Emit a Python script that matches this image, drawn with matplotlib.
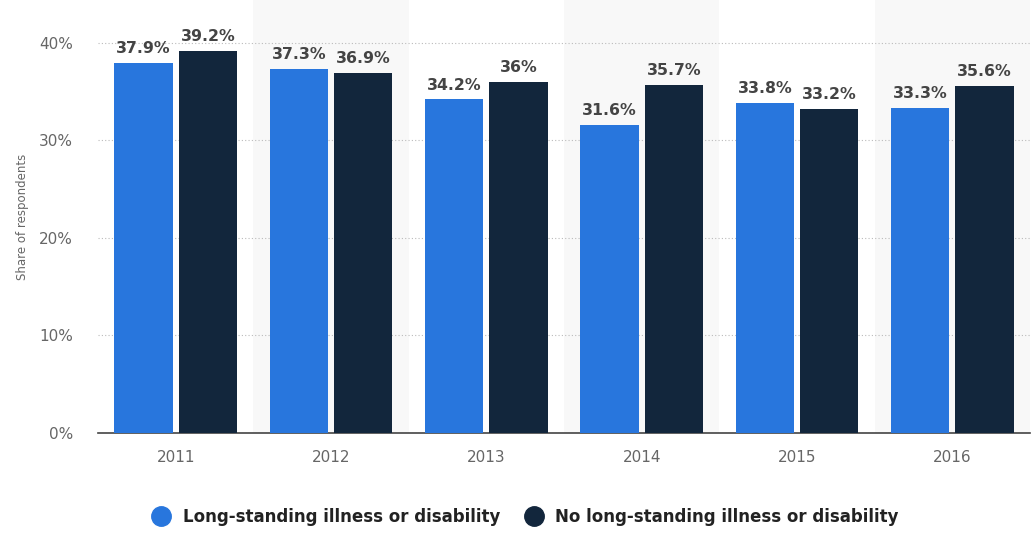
import numpy as np
import matplotlib.pyplot as plt
from matplotlib.lines import Line2D

years = ["2011", "2012", "2013", "2014", "2015", "2016"]
illness = [37.9, 37.3, 34.2, 31.6, 33.8, 33.3]
no_illness = [39.2, 36.9, 36.0, 35.7, 33.2, 35.6]
illness_labels = ["37.9%", "37.3%", "34.2%", "31.6%", "33.8%", "33.3%"]
no_illness_labels = ["39.2%", "36.9%", "36%", "35.7%", "33.2%", "35.6%"]
series_names = ["Long-standing illness or disability", "No long-standing illness or disability"]

blue = "#2876dd"
navy = "#12263c"

fig = plt.figure(figsize=(10.33, 5.33), dpi=100)
ax = fig.add_axes([0.095, 0.1876, 0.902, 0.8124])

x = np.arange(len(years))
w = 0.376
off = 0.207

# alternating column shading
for i in x:
    if i % 2 == 1:
        ax.axvspan(i - 0.5, i + 0.5, color="#f8f8f8", zorder=0, lw=0)

ax.bar(x - off, illness, width=w, color=blue, zorder=3)
ax.bar(x + off, no_illness, width=w, color=navy, zorder=3)

for xi, v, t in zip(x - off, illness, illness_labels):
    ax.annotate(t, (xi, v), xytext=(0, 5), textcoords="offset points",
                ha="center", va="bottom", fontsize=11.3, fontweight="bold", color="#444444")
for xi, v, t in zip(x + off, no_illness, no_illness_labels):
    ax.annotate(t, (xi, v), xytext=(0, 5), textcoords="offset points",
                ha="center", va="bottom", fontsize=11.3, fontweight="bold", color="#444444")

ax.set_xlim(-0.5, 5.5)
ax.set_ylim(0, 44.4)
ax.set_yticks([0, 10, 20, 30, 40])
ax.set_yticklabels(["0%", "10%", "20%", "30%", "40%"])
ax.set_xticks(x)
ax.set_xticklabels(years)
ax.yaxis.grid(True, linestyle=(0, (1, 2)), color="#bbbbbb", lw=0.8, zorder=1)
ax.set_axisbelow(True)

for side in ["top", "right", "left"]:
    ax.spines[side].set_visible(False)
ax.spines["bottom"].set_color("#444444")
ax.spines["bottom"].set_linewidth(1.2)
ax.tick_params(axis="both", length=0, labelsize=11, colors="#666666")
ax.tick_params(axis="x", pad=12)
ax.tick_params(axis="y", pad=18)

ax.set_ylabel("Share of respondents", fontsize=8.5, color="#666666", labelpad=7)

handles = [Line2D([], [], marker="o", ls="", markersize=14, color=blue),
           Line2D([], [], marker="o", ls="", markersize=14, color=navy)]
leg = fig.legend(handles, series_names, loc="center", bbox_to_anchor=(0.505, 0.03),
                 ncol=2, frameon=False, handletextpad=0.3, columnspacing=1.0,
                 prop={"weight": "bold", "size": 12})
for t in leg.get_texts():
    t.set_color("#222222")

fig.savefig("out.png", dpi=100)
